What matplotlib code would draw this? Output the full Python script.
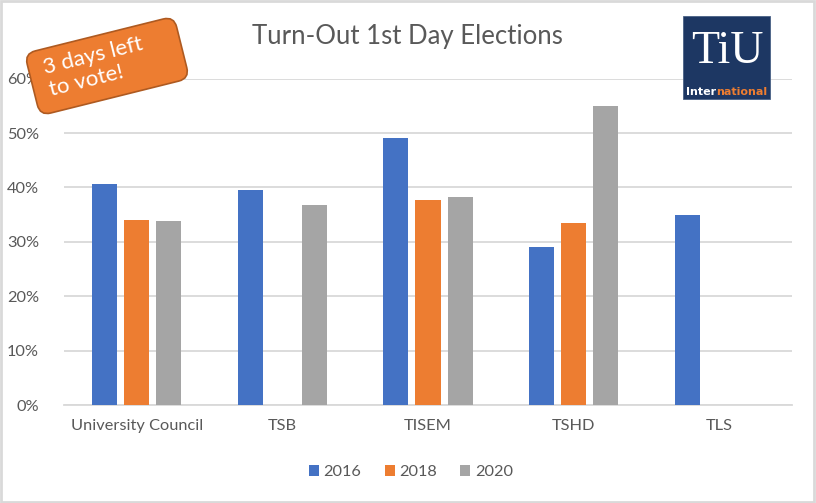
import matplotlib
matplotlib.use('Agg')
import matplotlib.pyplot as plt
import numpy as np
from matplotlib.patches import FancyBboxPatch, Rectangle
from matplotlib.ticker import PercentFormatter
from matplotlib.transforms import Affine2D

plt.rcParams['font.family'] = ['Lato', 'DejaVu Sans']

# data (turn-out in %)
categories = ['University Council', 'TSB', 'TISEM', 'TSHD', 'TLS']
years = ['2016', '2018', '2020']
turnout_2016 = [40.7, 39.5, 49.0, 29.1, 35.0]
turnout_2018 = [34.1, np.nan, 37.6, 33.5, np.nan]
turnout_2020 = [33.9, 36.7, 38.3, 54.9, np.nan]
colors = ['#4472C4', '#ED7D31', '#A5A5A5']

txt = '#595959'
grid = '#d9d9d9'

fig = plt.figure(figsize=(8.16, 5.03), dpi=100)
ax = fig.add_axes([0.0784, 0.1948, 0.8922, 0.6489])

x = np.arange(len(categories))
w = 0.172
step = 0.22
series = [turnout_2016, turnout_2018, turnout_2020]
for i, (vals, c) in enumerate(zip(series, colors)):
    ax.bar(x + (i - 1) * step, vals, width=w, color=c, zorder=3, label=years[i])

ax.set_xlim(-0.5, len(categories) - 0.5)
ax.set_ylim(0, 60)
ax.set_yticks(np.arange(0, 61, 10))
ax.yaxis.set_major_formatter(PercentFormatter(decimals=0))
ax.set_xticks(x)
ax.set_xticklabels(categories)
ax.grid(axis='y', color=grid, linewidth=1.3, zorder=0)
for s in ['top', 'right', 'left']:
    ax.spines[s].set_visible(False)
ax.spines['bottom'].set_color(grid)
ax.spines['bottom'].set_linewidth(1.3)
ax.tick_params(axis='both', length=0, labelsize=11.8, colors=txt)
ax.tick_params(axis='y', pad=18)
ax.tick_params(axis='x', pad=10)

fig.text(407 / 816, 1 - 37 / 503, 'Turn-Out 1st Day Elections', ha='center', va='center',
         fontsize=18.5, color=txt)

h, l = ax.get_legend_handles_labels()
fig.legend(h, l, loc='center', bbox_to_anchor=(411 / 816, 1 - 472 / 503), ncol=3,
           frameon=False, fontsize=11.8, labelcolor=txt, handlelength=0.62,
           handleheight=0.62, handletextpad=0.3, columnspacing=1.4)

# chart border
fig.add_artist(Rectangle((0.001, 0.001), 0.997, 0.997, transform=fig.transFigure,
                         fill=False, edgecolor=grid, linewidth=2))

# callout box (inches coordinates)
cx, cy = 1.07, 5.03 - 0.66
bw, bh = 1.54, 0.64
rot = Affine2D().rotate_deg_around(cx, cy, 14) + fig.dpi_scale_trans
callout = FancyBboxPatch((cx - bw / 2, cy - bh / 2), bw, bh,
                         boxstyle='round,pad=0,rounding_size=0.11',
                         facecolor='#ED7D31', edgecolor='#AE5A21', linewidth=1.2,
                         transform=rot, zorder=10)
fig.add_artist(callout)
fig.text(cx - 0.62, cy + 0.02, '3 days left\nto vote!', transform=rot, rotation=14,
         rotation_mode='anchor', ha='left', va='center', multialignment='left',
         fontsize=16, color='white', zorder=11, linespacing=1.15)

# logo
fig.add_artist(Rectangle((683 / 816, 1 - 99 / 503), 87 / 816, 83 / 503,
                         transform=fig.transFigure, facecolor='#1d3763',
                         edgecolor='#4a6186', linewidth=0.6, zorder=10))
fig.text(727 / 816, 1 - 63 / 503, 'TiU', ha='center', va='baseline', color='white',
         fontsize=33, family='Liberation Serif', zorder=11)
t1 = fig.text(686 / 816, 1 - 95 / 503, 'Inter', ha='left', va='baseline', color='white',
              fontsize=8, fontweight='bold', family='DejaVu Sans', zorder=11)
fig.canvas.draw()
bb = t1.get_window_extent()
fig.text(bb.x1 / 816, 1 - 95 / 503, 'national', ha='left', va='baseline', color='#ED7D31',
         fontsize=8, fontweight='bold', family='DejaVu Sans', zorder=11)

fig.savefig('out.png', dpi=100)
